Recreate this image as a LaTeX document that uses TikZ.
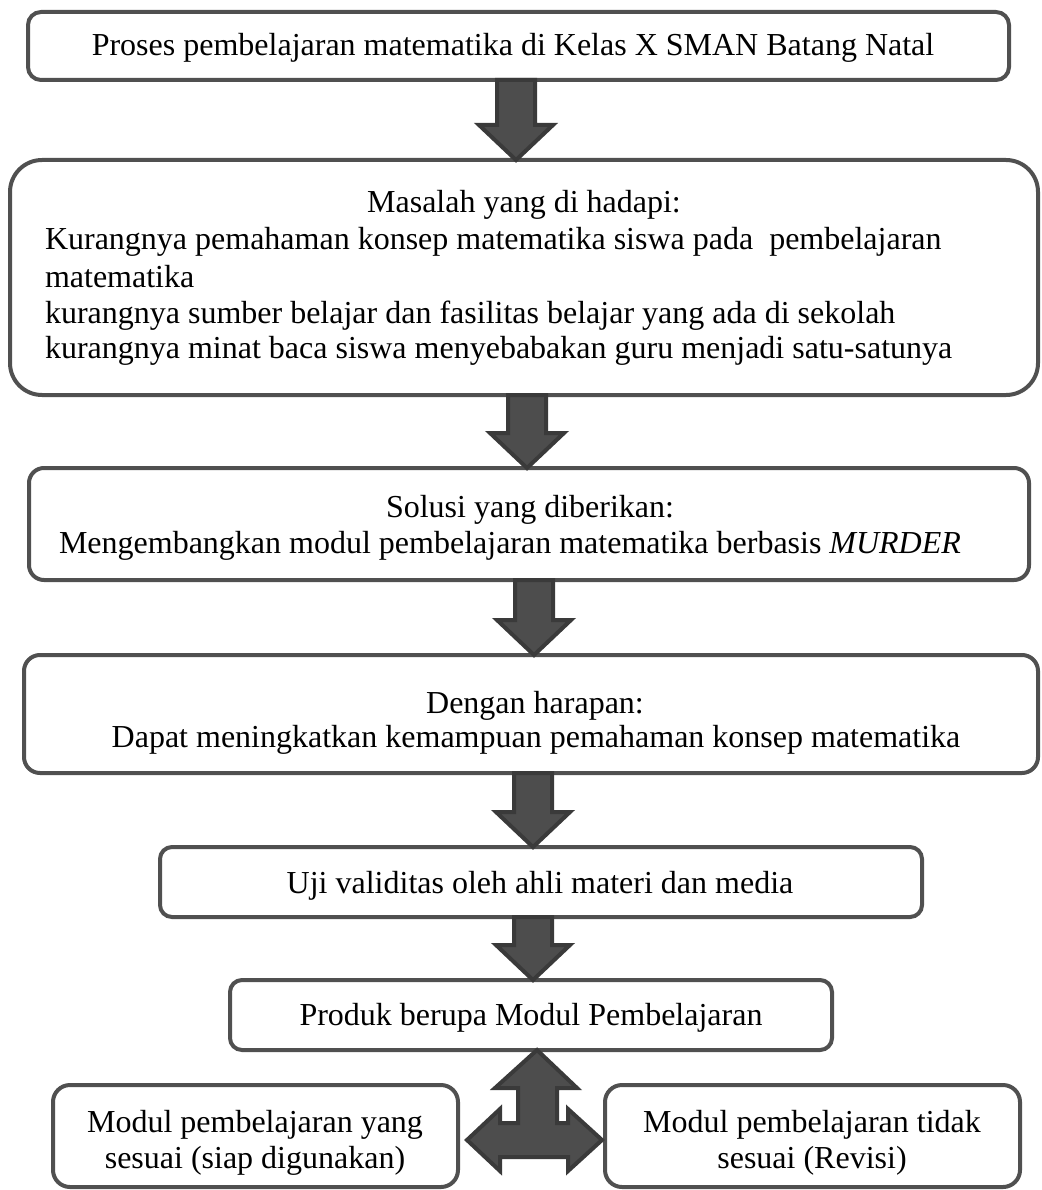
\documentclass[tikz,border=0pt]{standalone}
\usepackage{fontspec}
\setmainfont{Liberation Serif}
\usetikzlibrary{calc}
\definecolor{boxline}{RGB}{80,80,80}
\definecolor{arrowfill}{RGB}{77,77,77}
\definecolor{arrowline}{RGB}{58,58,58}
\newcommand\blockdown[3]{%
  \draw[barrow] let \p1=(#2.south), \p2=(#3.north) in
    (#1pt-19pt,\y1) -- (#1pt+19pt,\y1) -- (#1pt+19pt,\y2+35pt) -- (#1pt+37pt,\y2+35pt)
    -- (#1pt,\y2) -- (#1pt-37pt,\y2+35pt) -- (#1pt-19pt,\y2+35pt) -- cycle;}
\begin{document}
\begin{tikzpicture}[x=1pt,y=-1pt,
  box/.style={draw=boxline, fill=white, line width=4pt, inner sep=0pt, outer sep=0pt, rectangle},
  txt/.style={inner sep=0pt, outer sep=0pt, anchor=base, font=\fontsize{32}{36}\selectfont, text=black},
  txtl/.style={txt, anchor=base west},
  barrow/.style={draw=arrowline, fill=arrowfill, line width=4pt, line join=miter}]
\useasboundingbox (0,0) rectangle (1041,1190);

% boxes
\node[box, rounded corners=13pt, minimum width=981pt, minimum height=68pt] (b1) at (518.5,46) {};
\node[box, rounded corners=32pt, minimum width=1028pt, minimum height=235pt] (b2) at (524,277.5) {};
\node[box, rounded corners=15pt, minimum width=1000pt, minimum height=112pt] (b3) at (529,524) {};
\node[box, rounded corners=16pt, minimum width=1014pt, minimum height=118pt] (b4) at (531,714) {};
\node[box, rounded corners=12pt, minimum width=762pt, minimum height=70pt] (b5) at (541,882) {};
\node[box, rounded corners=12pt, minimum width=602pt, minimum height=70pt] (b6) at (531,1015) {};
\node[box, rounded corners=17pt, minimum width=405pt, minimum height=102pt] (b7) at (255.5,1136) {};
\node[box, rounded corners=17pt, minimum width=415pt, minimum height=102pt] (b8) at (812.5,1136) {};

% texts
\node[txt] (t1) at (513,56) {Proses pembelajaran matematika di Kelas X SMAN Batang Natal};
\node[txt] (t2a) at (524,213) {Masalah yang di hadapi:};
\node[txtl] (t2b) at (45,250) {Kurangnya pemahaman konsep matematika siswa pada~~pembelajaran};
\node[txtl] (t2c) at (45,287) {matematika};
\node[txtl] (t2d) at (45,323) {kurangnya sumber belajar dan fasilitas belajar yang ada di sekolah};
\node[txtl] (t2e) at (45,358) {kurangnya minat baca siswa menyebabakan guru menjadi satu-satunya};
\node[txt] (t3a) at (530,517) {Solusi yang diberikan:};
\node[txtl] (t3b) at (59,553) {Mengembangkan modul pembelajaran matematika berbasis \textit{MURDER}};
\node[txt] (t4a) at (535,713) {Dengan harapan:};
\node[txt] (t4b) at (536,747) {Dapat meningkatkan kemampuan pemahaman konsep matematika};
\node[txt] (t5) at (540,893) {Uji validitas oleh ahli materi dan media};
\node[txt] (t6) at (531,1025) {Produk berupa Modul Pembelajaran};
\node[txt] (t7a) at (255,1132) {Modul pembelajaran yang};
\node[txt] (t7b) at (255,1168) {sesuai (siap digunakan)};
\node[txt] (t8a) at (812,1132) {Modul pembelajaran tidak};
\node[txt] (t8b) at (812,1168) {sesuai (Revisi)};

% block arrows
\blockdown{516}{b1}{b2}
\blockdown{527}{b2}{b3}
\blockdown{534}{b3}{b4}
\blockdown{533}{b4}{b5}
\blockdown{533}{b5}{b6}

% left-right-up arrow
\draw[barrow] let \p1=(b6.south), \p2=(b7.east), \p3=(b8.west) in
  (\x2+9pt,\y2-4pt) -- (\x2+42pt,\y2+27pt) -- (\x2+42pt,\y2+13pt)
  -- (537pt-19pt,\y2+13pt) -- (537pt-19pt,\y1-38pt) -- (537pt-42pt,\y1-38pt)
  -- (537pt,\y1) -- (537pt+40pt,\y1-38pt) -- (537pt+20pt,\y1-38pt)
  -- (537pt+20pt,\y2+13pt) -- (\x3-37pt,\y2+13pt) -- (\x3-37pt,\y2+27pt)
  -- (\x3-3pt,\y2-4pt) -- (\x3-37pt,\y2-35pt) -- (\x3-37pt,\y2-21pt)
  -- (\x2+42pt,\y2-21pt) -- (\x2+42pt,\y2-35pt) -- cycle;
\end{tikzpicture}
\end{document}
